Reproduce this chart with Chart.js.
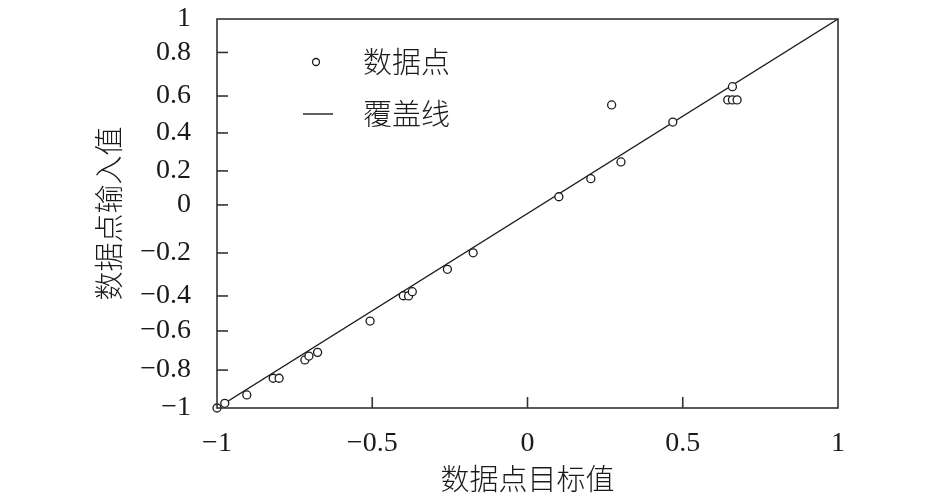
<!DOCTYPE html>
<html>
<head>
<meta charset="utf-8">
<script src="https://cdn.jsdelivr.net/npm/chart.js@4/dist/chart.umd.min.js"></script>
<style>
  html, body { margin: 0; padding: 0; background: #fff; }
</style>
</head>
<body>
<canvas id="fitChart" width="946" height="496"></canvas>
<script>
// data
const targetVals = [-1.0, -0.975, -0.904, -0.819, -0.800, -0.717, -0.704, -0.676, -0.507,
  -0.400, -0.383, -0.371, -0.258, -0.175, 0.101, 0.204, 0.271, 0.301, 0.468,
  0.660, 0.645, 0.660, 0.675];
const inputVals = [-1.0, -0.976, -0.933, -0.847, -0.847, -0.753, -0.733, -0.714, -0.553,
  -0.423, -0.424, -0.402, -0.287, -0.202, 0.086, 0.179, 0.558, 0.265, 0.470,
  0.652, 0.584, 0.584, 0.584];
const lineX = [-1, 1];
const lineY = [-1, 1];

const seriesNames = ["数据点", "覆盖线"];
const xTitle = "数据点目标值";
const yTitle = "数据点输入值";

// the y labels in the figure do not sit on an even grid
const yTickLabels = ["1", "0.8", "0.6", "0.4", "0.2", "0", "−0.2", "−0.4", "−0.6", "−0.8", "−1"];
const yTickAt = [1, 0.828, 0.604, 0.414, 0.219, 0.044, -0.203, -0.424, -0.604, -0.805, -1];

const ink = "#1a1a1a";
const numFont = { family: '"Liberation Serif", "Noto Sans CJK SC", serif', size: 28 };
const cjkFont = { family: '"Noto Sans CJK SC", "Liberation Serif", sans-serif', size: 29, weight: 300 };

function fmt(v) {
  const s = String(Math.round(v * 100) / 100);
  return s.replace("-", "−");
}

// frame, inward tick marks, and the legend inside the plot
const framePlugin = {
  id: "frame",
  afterDraw(chart) {
    const ctx = chart.ctx;
    const { left, right, top, bottom } = chart.chartArea;
    ctx.save();
    ctx.strokeStyle = "#333";
    ctx.lineWidth = 1.6;
    ctx.strokeRect(left, top, right - left, bottom - top);

    const tl = 11;
    const ys = chart.scales.y;
    ys.ticks.forEach(t => {
      const py = ys.getPixelForValue(t.value);
      if (Math.abs(py - top) < 2 || Math.abs(py - bottom) < 2) return;
      ctx.beginPath();
      ctx.moveTo(left, py);
      ctx.lineTo(left + tl, py);
      ctx.stroke();
    });
    const xs = chart.scales.x;
    xs.ticks.forEach(t => {
      const px = xs.getPixelForValue(t.value);
      if (Math.abs(px - left) < 2 || Math.abs(px - right) < 2) return;
      ctx.beginPath();
      ctx.moveTo(px, bottom);
      ctx.lineTo(px, bottom - tl);
      ctx.stroke();
    });

    // legend
    const ds = chart.data.datasets;
    const lx = left + 99, ly1 = top + 43, ly2 = top + 95;
    ctx.lineWidth = 1.3;
    ctx.strokeStyle = ink;
    ctx.beginPath();
    ctx.arc(lx, ly1, 3.5, 0, Math.PI * 2);
    ctx.stroke();
    ctx.lineWidth = 1.4;
    ctx.beginPath();
    ctx.moveTo(lx - 13, ly2);
    ctx.lineTo(lx + 17, ly2);
    ctx.stroke();
    ctx.fillStyle = ink;
    ctx.font = cjkFont.weight + " " + cjkFont.size + "px " + cjkFont.family;
    ctx.textBaseline = "middle";
    ctx.textAlign = "left";
    ctx.fillText(ds[0].label, lx + 47, ly1);
    ctx.fillText(ds[1].label, lx + 47, ly2);
    ctx.restore();
  }
};

const ctx = document.getElementById("fitChart").getContext("2d");
new Chart(ctx, {
  type: "scatter",
  data: {
    datasets: [
      {
        label: seriesNames[0],
        data: targetVals.map((x, i) => ({ x: x, y: inputVals[i] })),
        pointRadius: 4,
        pointBorderWidth: 1.3,
        pointBorderColor: ink,
        pointBackgroundColor: "#fff",
        showLine: false,
        clip: false,
        order: 0,
      },
      {
        label: seriesNames[1],
        data: lineX.map((x, i) => ({ x: x, y: lineY[i] })),
        showLine: true,
        borderColor: ink,
        borderWidth: 1.3,
        pointRadius: 0,
        order: 1,
      },
    ],
  },
  options: {
    responsive: false,
    animation: false,
    layout: { padding: { left: 0, right: 108, top: 19, bottom: 0 } },
    plugins: {
      legend: { display: false },
      tooltip: { enabled: false },
    },
    scales: {
      x: {
        type: "linear",
        min: -1,
        max: 1,
        grid: { display: false },
        border: { display: false },
        ticks: {
          stepSize: 0.5,
          color: ink,
          font: numFont,
          padding: 11,
          maxRotation: 0,
          callback: v => fmt(v),
        },
        title: {
          display: true,
          text: xTitle,
          color: ink,
          font: cjkFont,
          padding: { top: 0, bottom: 0 },
        },
        afterFit: scale => {
          scale.height = 88;
          scale.paddingLeft = 0;
          scale.paddingRight = 0;
        },
      },
      y: {
        type: "linear",
        min: -1,
        max: 1,
        grid: { display: false },
        border: { display: false },
        afterBuildTicks: scale => {
          scale.ticks = yTickAt.map(v => ({ value: v }));
        },
        ticks: {
          color: ink,
          font: numFont,
          padding: 18,
          callback: (v, i) => yTickLabels[i],
        },
        title: {
          display: true,
          text: yTitle,
          color: ink,
          font: cjkFont,
          padding: { top: 92, bottom: 0 },
        },
        afterFit: scale => {
          scale.width = 217;
          scale.paddingTop = 0;
          scale.paddingBottom = 0;
        },
      },
    },
  },
  plugins: [framePlugin],
});
</script>
</body>
</html>
